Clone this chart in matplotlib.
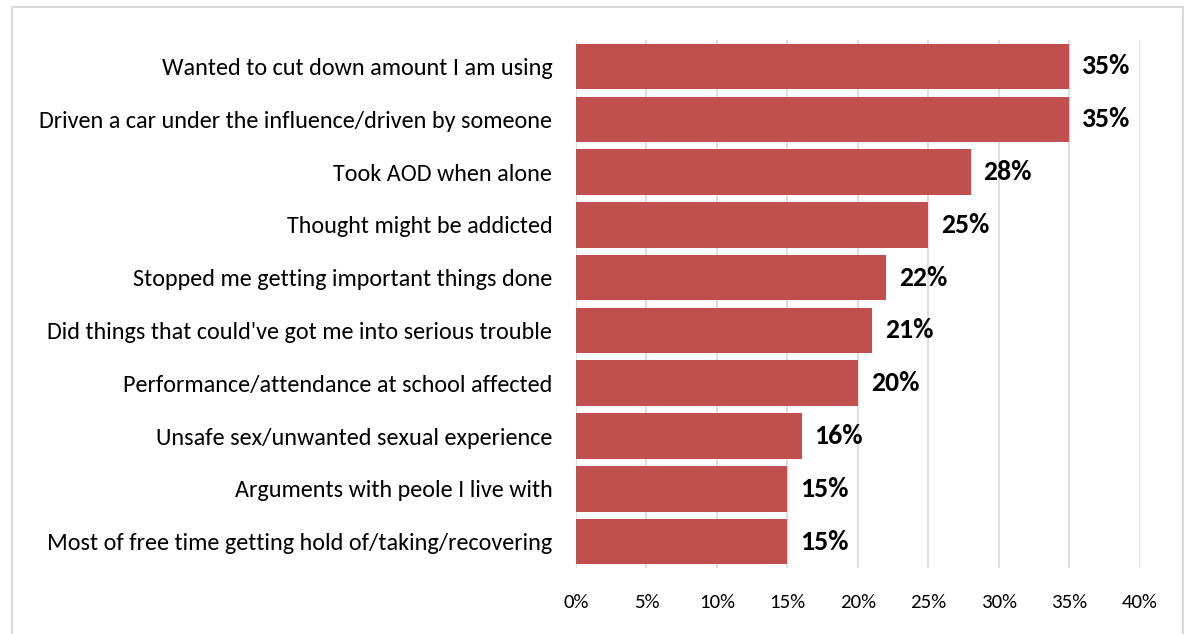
import matplotlib.pyplot as plt
from matplotlib.patches import Rectangle
from matplotlib.ticker import PercentFormatter

categorias = [
    "Wanted to cut down amount I am using",
    "Driven a car under the influence/driven by someone",
    "Took AOD when alone",
    "Thought might be addicted",
    "Stopped me getting important things done",
    "Did things that could've got me into serious trouble",
    "Performance/attendance at school affected",
    "Unsafe sex/unwanted sexual experience",
    "Arguments with peole I live with",
    "Most of free time getting hold of/taking/recovering",
]
valores = [35, 35, 28, 25, 22, 21, 20, 16, 15, 15]
rotulos = ["35%", "35%", "28%", "25%", "22%", "21%", "20%", "16%", "15%", "15%"]

plt.rcParams['font.family'] = ['Carlito', 'DejaVu Sans']

fig = plt.figure(figsize=(11.88, 6.34), dpi=100)
ax = fig.add_axes([0.4848, 0.1041, 0.4748, 0.8328])

pos = list(range(len(categorias)))
ax.barh(pos, valores, height=0.86, color='#C0504D', zorder=2)

for p, v, r in zip(pos, valores, rotulos):
    ax.text(v + 0.9, p, r, va='center', ha='left', fontsize=20,
            fontweight='bold', color='black')

ax.set_xlim(0, 40)
ax.set_ylim(len(categorias) - 0.5, -0.5)
ax.set_xticks(range(0, 41, 5))
ax.xaxis.set_major_formatter(PercentFormatter(decimals=0))
ax.set_yticks(pos)
ax.set_yticklabels(categorias, fontsize=17.4)
ax.tick_params(axis='y', length=0, pad=17)
ax.tick_params(axis='x', length=0, pad=19, labelsize=15)
ax.grid(axis='x', color='#D9D9D9', linewidth=1.2, zorder=0)
for s in ax.spines.values():
    s.set_visible(False)

fig.patches.append(Rectangle((12 / 1188, -0.05), 1171 / 1188, 1.05 - 7 / 634,
                             transform=fig.transFigure, fill=False,
                             edgecolor='#D9D9D9', linewidth=1.5))

fig.savefig("out.png", dpi=100)
